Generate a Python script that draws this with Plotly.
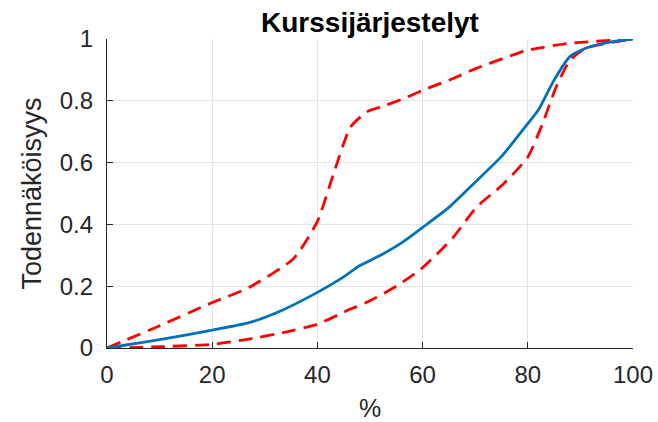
import plotly.graph_objects as go

mean_x = [0, 10, 20, 27, 33, 40, 45, 48, 52, 56, 60, 65, 69, 75, 80, 82, 85, 88, 91, 95.6, 100]
mean_y = [0, 0.027, 0.058, 0.082, 0.12, 0.18, 0.23, 0.266, 0.30, 0.34, 0.39, 0.455, 0.52, 0.62, 0.726, 0.77, 0.867, 0.943, 0.97, 0.99, 1.0]

upper_x = [0, 10, 20, 27, 35.5, 40, 43, 46.3, 49.5, 52, 56.4, 60, 65.8, 70.2, 75.3, 80, 88, 100]
upper_y = [0, 0.072, 0.147, 0.196, 0.29, 0.41, 0.56, 0.715, 0.765, 0.78, 0.807, 0.834, 0.872, 0.905, 0.937, 0.964, 0.986, 1.0]

lower_x = [0, 10, 20, 27, 33.5, 40, 46.3, 50, 55, 60, 65.8, 70.2, 75.3, 80, 82.8, 85.4, 88, 91, 100]
lower_y = [0, 0.004, 0.012, 0.029, 0.05, 0.077, 0.126, 0.153, 0.2, 0.26, 0.358, 0.455, 0.53, 0.618, 0.726, 0.845, 0.93, 0.97, 1.0]

x_ticks = [0, 20, 40, 60, 80, 100]
y_ticks = [0, 0.2, 0.4, 0.6, 0.8, 1]
y_tick_labels = ["0", "0.2", "0.4", "0.6", "0.8", "1"]

RED_DASH = dict(color="#FF0000", width=2.8, dash="14px,8px", shape="spline", smoothing=0.6)

fig = go.Figure()
fig.add_trace(go.Scatter(x=upper_x, y=upper_y, mode="lines", line=RED_DASH))
fig.add_trace(go.Scatter(x=lower_x, y=lower_y, mode="lines", line=RED_DASH))
fig.add_trace(go.Scatter(x=mean_x, y=mean_y, mode="lines",
                         line=dict(color="#0072BD", width=2.8, shape="spline", smoothing=0.6)))

fig.update_layout(
    width=658, height=422,
    margin=dict(l=107, r=25, t=39, b=74),
    paper_bgcolor="white", plot_bgcolor="white",
    showlegend=False,
    font=dict(family="Liberation Sans, Arial, sans-serif", color="#262626"),
    title=dict(text="<b>Kurssijärjestelyt</b>", x=(107 + 633) / 2 / 658, xanchor="center",
               y=1 - 22 / 422, yanchor="middle", font=dict(size=28, color="black")),
)
fig.update_xaxes(range=[0, 100], tickvals=x_ticks, ticks="inside", ticklen=6, tickcolor="#262626",
                 showline=True, linecolor="#262626", linewidth=1.2, mirror=False,
                 showgrid=True, gridcolor="#E3E3E3", gridwidth=1, zeroline=False,
                 tickfont=dict(size=24), automargin=False, ticklabelstandoff=5,
                 title=dict(text="%", font=dict(size=25), standoff=14))
fig.update_yaxes(range=[0, 1], tickvals=y_ticks, ticktext=y_tick_labels, ticks="inside", ticklen=6, tickcolor="#262626",
                 showline=True, linecolor="#262626", linewidth=1.2, mirror=False,
                 showgrid=True, gridcolor="#E3E3E3", gridwidth=1, zeroline=False,
                 tickfont=dict(size=24), automargin=False, ticklabelstandoff=8,
                 title=dict(text="Todennäköisyys", font=dict(size=27), standoff=10))

fig.write_html("out.html", config={"displayModeBar": False},
               post_script="document.body.style.margin='0';document.body.style.overflow='hidden';")
